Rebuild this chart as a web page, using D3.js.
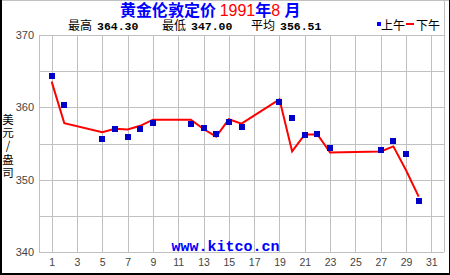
<!DOCTYPE html>
<html>
<head>
<meta charset="utf-8">
<script src="https://cdn.jsdelivr.net/npm/d3@7"></script>
<style>
  body { margin: 0; background: #fff; }
  svg { display: block; }
</style>
</head>
<body>
<div id="chart"></div>
<script>
// AM fix (blue squares), PM fix (red line), USD/oz, August 1991
const amDays = [1, 2, 5, 6, 7, 8, 9, 12, 13, 14, 15, 16, 19, 20, 21, 22, 23, 27, 28, 29, 30];
const amValues = [364.30, 360.30, 355.60, 357.05, 355.85, 356.95, 357.80, 357.65, 357.20, 356.35, 357.95,
                  357.25, 360.70, 358.50, 356.15, 356.35, 354.35, 354.10, 355.30, 353.50, 347.00];
const pmDays = [1, 2, 5, 6, 7, 8, 9, 12, 13, 14, 15, 16, 19, 20, 21, 22, 23, 27, 28, 29, 30];
const pmValues = [363.55, 357.80, 356.55, 357.05, 356.95, 357.45, 358.30, 358.30, 357.00, 355.95, 358.35,
                  357.75, 361.10, 353.90, 356.25, 356.25, 353.75, 353.90, 354.60, 351.30, 347.65];

const xTicks = [1, 3, 5, 7, 9, 11, 13, 15, 17, 19, 21, 23, 25, 27, 29, 31];
const yTicks = [340, 350, 360, 370];
const yGrid = [340, 345, 350, 355, 360, 365, 370];

const statLabels = ["最高", "最低", "平均"];
const statValues = ["364.30", "347.00", "356.51"];
const legendLabels = ["上午", "下午"];

const W = 450, H = 275;
const plot = {left: 39, right: 444, top: 35, bottom: 252};
const NBSP = "\u00A0";

const svg = d3.select("#chart").append("svg")
    .attr("width", W)
    .attr("height", H);

svg.append("rect").attr("width", W).attr("height", H).attr("fill", "#fff");

const x = d3.scaleLinear().domain([0, 32]).range([plot.left, plot.right]);
const y = d3.scaleLinear().domain([340, 370]).range([plot.bottom, plot.top]);

// frame of the picture
svg.append("line").attr("x1", 0).attr("x2", W).attr("y1", 0.5).attr("y2", 0.5).attr("stroke", "#c0c0c0");
svg.append("line").attr("x1", 444.5).attr("x2", 444.5).attr("y1", 0).attr("y2", plot.top).attr("stroke", "#c0c0c0");
svg.append("line").attr("x1", 1).attr("x2", 1).attr("y1", 0).attr("y2", H).attr("stroke", "#000").attr("stroke-width", 2);
svg.append("line").attr("x1", 0).attr("x2", W).attr("y1", 274).attr("y2", 274).attr("stroke", "#000").attr("stroke-width", 2);
svg.append("line").attr("x1", 449.5).attr("x2", 449.5).attr("y1", 0).attr("y2", H).attr("stroke", "#000");

// grid
const grid = svg.append("g").attr("stroke", "#c0c0c0").attr("shape-rendering", "crispEdges");
grid.selectAll(".hg").data(yGrid).enter().append("line")
    .attr("x1", plot.left).attr("x2", plot.right)
    .attr("y1", d => Math.round(y(d)) + 0.5).attr("y2", d => Math.round(y(d)) + 0.5);
grid.selectAll(".vg").data([0, 32].concat(xTicks)).enter().append("line")
    .attr("y1", plot.top).attr("y2", plot.bottom)
    .attr("x1", d => Math.round(x(d)) + 0.5).attr("x2", d => Math.round(x(d)) + 0.5);

// axes (labels only)
const xAxis = svg.append("g")
    .attr("transform", `translate(0,${plot.bottom})`)
    .call(d3.axisBottom(x).tickValues(xTicks).tickSize(0).tickPadding(7));
xAxis.select(".domain").remove();
xAxis.selectAll("text")
    .attr("fill", "#444")
    .style("font-family", "'Liberation Sans', Arial, sans-serif")
    .style("font-size", "10.5px");

const yAxis = svg.append("g")
    .attr("transform", `translate(${plot.left},0)`)
    .call(d3.axisLeft(y).tickValues(yTicks).tickSize(0).tickPadding(5));
yAxis.select(".domain").remove();
yAxis.selectAll("text")
    .attr("fill", "#444")
    .style("font-family", "'Liberation Sans', Arial, sans-serif")
    .style("font-size", "11px");

// y axis title, one character per row
const yTitle = svg.append("g")
    .attr("fill", "#000")
    .style("font-family", "'Noto Sans CJK SC', sans-serif")
    .style("font-size", "11.5px");
yTitle.selectAll("text").data(["美", "元", "/", "盎", "司"]).enter().append("text")
    .attr("x", 8)
    .attr("y", (d, i) => 124 + i * 13.2)
    .attr("text-anchor", "middle")
    .text(d => d);

// watermark
svg.append("text")
    .attr("x", 225.5)
    .attr("y", 251)
    .attr("text-anchor", "middle")
    .attr("fill", "#0000ff")
    .style("font-family", "'Liberation Mono', 'Courier New', monospace")
    .style("font-weight", "bold")
    .style("font-size", "15px")
    .text("www.kitco.cn");

// PM line
const line = d3.line()
    .x(d => x(d[0]))
    .y(d => y(d[1]));
svg.append("path")
    .datum(pmDays.map((d, i) => [d, pmValues[i]]))
    .attr("fill", "none")
    .attr("stroke", "#ff0000")
    .attr("stroke-width", 2)
    .attr("d", line);

// AM squares
svg.selectAll(".am")
    .data(amDays.map((d, i) => [d, amValues[i]]))
    .enter().append("rect")
    .attr("class", "am")
    .attr("x", d => Math.round(x(d[0])) - 3)
    .attr("y", d => Math.round(y(d[1])) - 3)
    .attr("width", 6)
    .attr("height", 6)
    .attr("fill", "#0000c8");

// title
const title = svg.append("text")
    .attr("x", 120)
    .attr("y", 16)
    .style("font-family", "'Noto Sans CJK SC', sans-serif")
    .style("font-weight", "bold")
    .style("font-size", "16px");
title.append("tspan").attr("fill", "#0000ff").text("黄金伦敦定价" + NBSP);
title.append("tspan").attr("fill", "#ff0000").style("font-family", "'Liberation Sans', Arial, sans-serif").style("font-weight", "normal").text("1991");
title.append("tspan").attr("fill", "#0000ff").text("年");
title.append("tspan").attr("fill", "#ff0000").style("font-family", "'Liberation Sans', Arial, sans-serif").style("font-weight", "normal").text("8" + NBSP);
title.append("tspan").attr("fill", "#0000ff").text("月");

// stats line
const statX = [68, 162, 251];
statLabels.forEach((lab, i) => {
    const t = svg.append("text")
        .attr("x", statX[i])
        .attr("y", 29.5)
        .attr("fill", "#000");
    t.append("tspan")
        .style("font-family", "'Noto Sans CJK SC', sans-serif")
        .style("font-size", "12px")
        .text(lab);
    t.append("tspan")
        .attr("dx", 5)
        .style("font-family", "'Liberation Mono', 'Courier New', monospace")
        .style("font-weight", "bold")
        .style("font-size", "11.5px")
        .text(statValues[i]);
});

// legend
svg.append("rect").attr("x", 377).attr("y", 22).attr("width", 4).attr("height", 4).attr("fill", "#0000ff");
svg.append("text").attr("x", 381).attr("y", 29.5)
    .style("font-family", "'Noto Sans CJK SC', sans-serif").style("font-size", "12px")
    .text(legendLabels[0]);
svg.append("rect").attr("x", 406).attr("y", 23).attr("width", 8).attr("height", 2).attr("fill", "#ff0000");
svg.append("text").attr("x", 416).attr("y", 29.5)
    .style("font-family", "'Noto Sans CJK SC', sans-serif").style("font-size", "12px")
    .text(legendLabels[1]);
</script>
</body>
</html>
